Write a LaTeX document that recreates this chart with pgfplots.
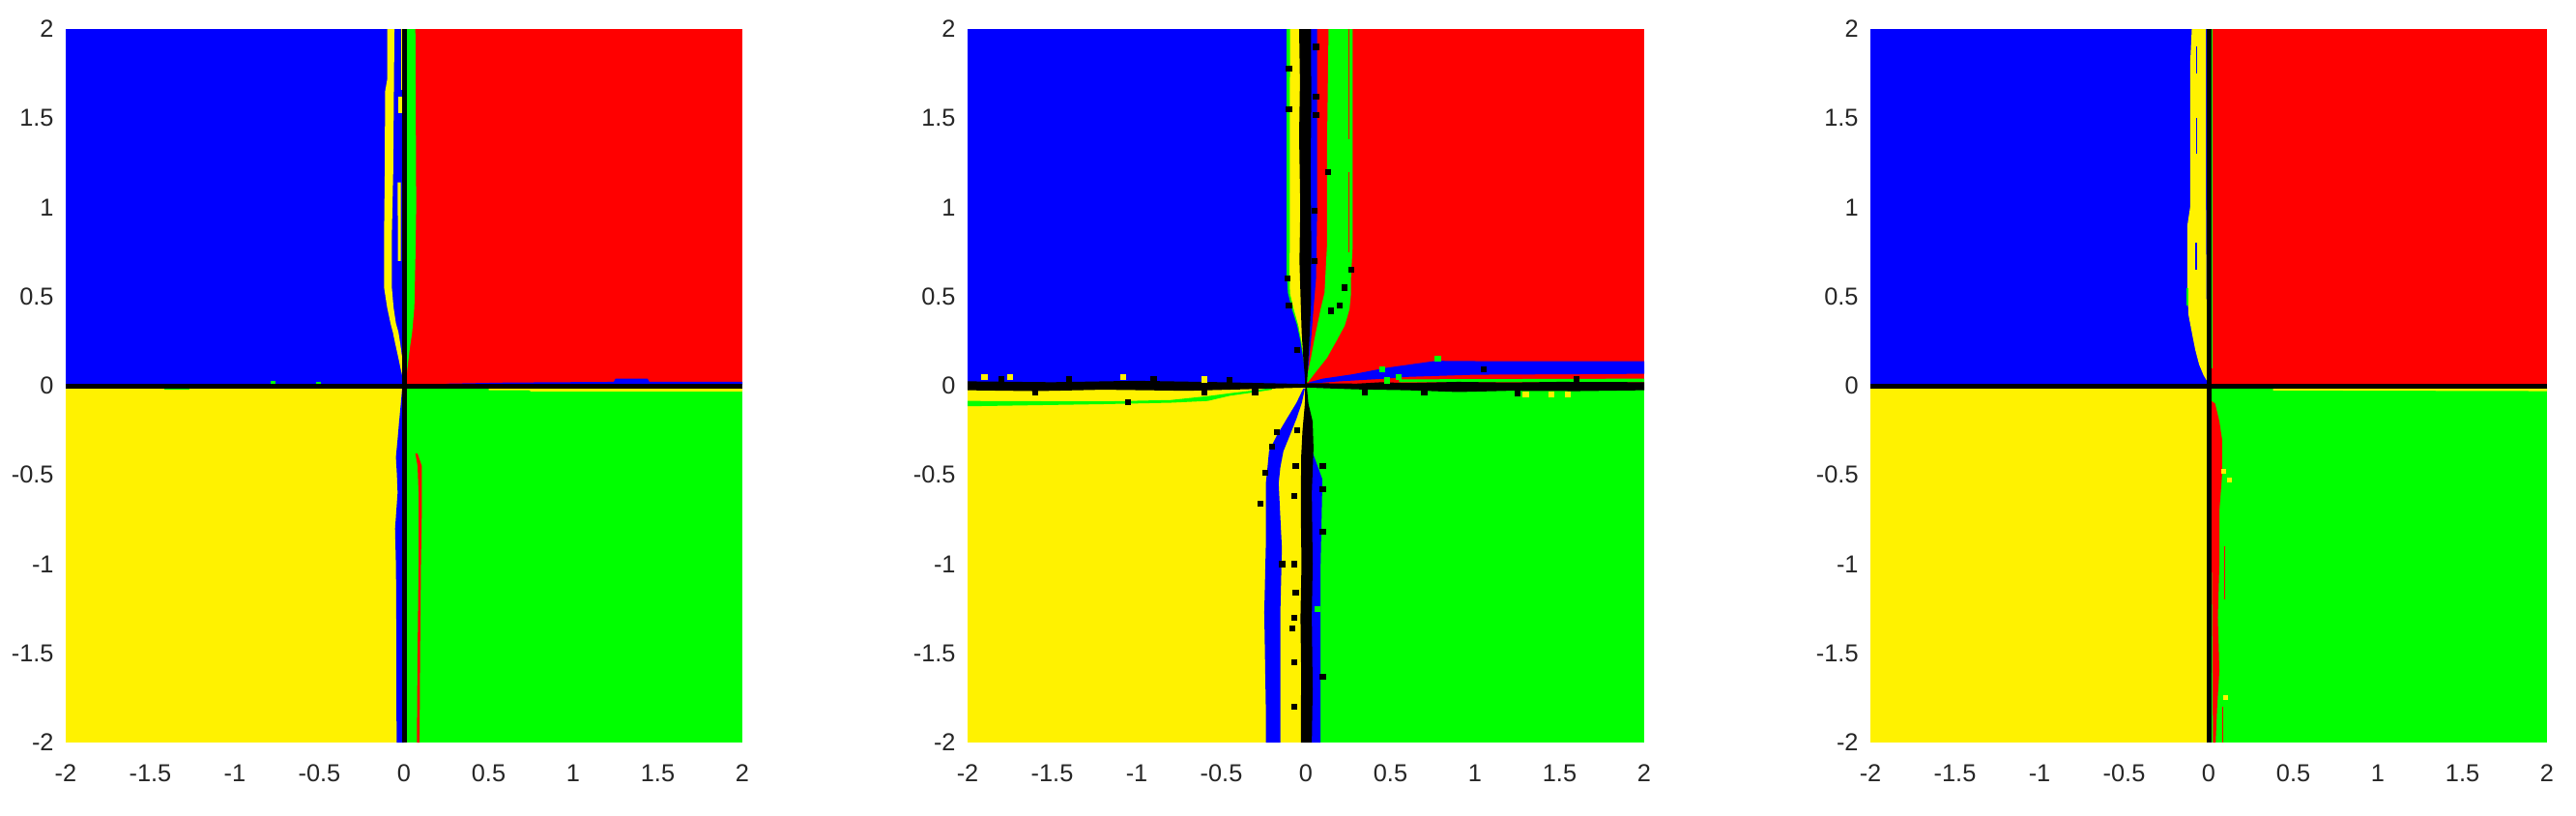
\documentclass[border=0pt]{standalone}
\usepackage{pgfplots}
\pgfplotsset{compat=1.18}
\usepackage{fontspec}
\setmainfont{Liberation Sans}
\definecolor{labelgray}{RGB}{38,38,38}

\pgfplotsset{
  basin/.style={
    scale only axis, width=210pt, height=221.4pt, anchor=south west,
    xmin=-2, xmax=2, ymin=-2, ymax=2,
    xtick={-2,-1.5,-1,-0.5,0,0.5,1,1.5,2},
    ytick={-2,-1.5,-1,-0.5,0,0.5,1,1.5,2},
    xticklabels={-2,-1.5,-1,-0.5,0,0.5,1,1.5,2},
    yticklabels={-2,-1.5,-1,-0.5,0,0.5,1,1.5,2},
    axis line style={draw=none}, major tick length=0pt,
    tick label style={font=\fontsize{7.6}{8}\selectfont, text=labelgray},
    xticklabel style={yshift=-3.4pt},
    yticklabel style={xshift=-0.2pt},
  },
  reg/.style={draw=none, fill=#1, forget plot},
  dots/.style={only marks, mark=square*, mark size=0.72pt, #1, forget plot},
}

\begin{document}
\begin{tikzpicture}
\path[use as bounding box] (0,0) rectangle (799.5pt,252.9pt);

% ---------- panel 1 ----------
\begin{axis}[basin, at={(20.4pt,22.5pt)}]
\addplot[reg=blue] coordinates {(-2,0) (0,0) (0,2) (-2,2)} --cycle;
\addplot[reg=red] coordinates {(0,0) (2,0) (2,2) (0,2)} --cycle;
\addplot[reg=yellow] coordinates {(-2,-2) (0,-2) (0,0) (-2,0)} --cycle;
\addplot[reg=green] coordinates {(0,-2) (2,-2) (2,0) (0,0)} --cycle;
% yellow strip, upper left
\addplot[reg=yellow] coordinates {(-0.099,2) (-0.099,1.72) (-0.112,1.65) (-0.114,1.2) (-0.118,0.85)
  (-0.118,0.55) (-0.1,0.44) (-0.08,0.35) (-0.066,0.3) (-0.053,0.24) (-0.032,0.15) (-0.019,0.09) (-0.006,0.04)
  (-0.004,0.09) (-0.01,0.15) (-0.023,0.24) (-0.033,0.3) (-0.048,0.35) (-0.062,0.44) (-0.072,0.55)
  (-0.072,0.85) (-0.064,1.2) (-0.06,1.65) (-0.057,2)} --cycle;
\addplot[reg=yellow] coordinates {(-0.032,1.62) (-0.012,1.62) (-0.012,1.53) (-0.032,1.53)} --cycle;
\addplot[reg=yellow] coordinates {(-0.038,1.14) (-0.019,1.14) (-0.02,0.7) (-0.036,0.7)} --cycle;
\addplot[reg=yellow] coordinates {(-0.02,2) (-0.01,2) (-0.01,1.66) (-0.02,1.66)} --cycle;
% green strip, upper right
\addplot[reg=green] coordinates {(0.012,2) (0.067,2) (0.072,1.0) (0.068,0.75) (0.061,0.44) (0.048,0.3)
  (0.034,0.21) (0.023,0.12) (0.015,0.06) (0.005,0.03) (0.005,2)} --cycle;
% along the x axis
\addplot[reg=blue] coordinates {(0.25,0.008) (2,0.008) (2,0.022) (1.45,0.022) (1.44,0.04) (1.25,0.04)
  (1.24,0.022) (0.6,0.018) (0.25,0.012)} --cycle;
\addplot[reg=yellow] coordinates {(0.5,-0.008) (0.75,-0.008) (0.75,-0.012) (2,-0.012) (2,-0.032)
  (0.75,-0.032) (0.74,-0.025) (0.5,-0.025)} --cycle;
\addplot[reg=green] coordinates {(-1.42,-0.008) (-1.27,-0.008) (-1.27,-0.022) (-1.42,-0.022)} --cycle;
\addplot[reg=green] coordinates {(-0.79,0.008) (-0.76,0.008) (-0.76,0.025) (-0.79,0.025)} --cycle;
\addplot[reg=green] coordinates {(-0.52,0.008) (-0.49,0.008) (-0.49,0.02) (-0.52,0.02)} --cycle;
% blue strip, lower left
\addplot[reg=blue] coordinates {(0,0) (-0.01,0) (-0.019,-0.1) (-0.029,-0.2) (-0.038,-0.3) (-0.048,-0.4)
  (-0.042,-0.5) (-0.038,-0.6) (-0.053,-0.8) (-0.048,-1.0) (-0.046,-1.2) (-0.044,-2) (0,-2)} --cycle;
% red strip, lower right
\addplot[reg=red] coordinates {(0.067,-0.38) (0.08,-0.45) (0.086,-0.6) (0.086,-1.0) (0.08,-1.5)
  (0.076,-2) (0.091,-2) (0.093,-1.8) (0.095,-1.5) (0.1,-1.0) (0.105,-0.7) (0.105,-0.45) (0.08,-0.38)} --cycle;
\addplot[black, line width=1.5pt, forget plot] coordinates {(-2,0) (2,0)};
\addplot[black, line width=1.5pt, forget plot] coordinates {(0,-2) (0,2)};
\end{axis}

% ---------- panel 2 ----------
\begin{axis}[basin, at={(300.3pt,22.5pt)}]
\addplot[reg=blue] coordinates {(-2,0) (0,0) (0,2) (-2,2)} --cycle;
\addplot[reg=red] coordinates {(0,0) (2,0) (2,2) (0,2)} --cycle;
\addplot[reg=yellow] coordinates {(-2,-2) (0,-2) (0,0) (-2,0)} --cycle;
\addplot[reg=green] coordinates {(0,-2) (2,-2) (2,0) (0,0)} --cycle;
% green rim and yellow strip, upper left
\addplot[reg=green] coordinates {(-0.113,2) (-0.113,0.62) (-0.106,0.52) (-0.082,0.43) (-0.052,0.34)
  (-0.032,0.25) (-0.015,0.15) (0,0.05) (0,2)} --cycle;
\addplot[reg=yellow] coordinates {(-0.094,2) (-0.096,0.62) (-0.094,0.52) (-0.072,0.43) (-0.045,0.34)
  (-0.027,0.25) (-0.012,0.15) (0,0.06) (0,2)} --cycle;
% blue strip right of the centre, upper half
\addplot[reg=blue] coordinates {(0,2) (0.067,2) (0.067,1.0) (0.06,0.6) (0.045,0.43) (0.03,0.25)
  (0.01,0.07) (0,0.03)} --cycle;
% green strip, upper right
\addplot[reg=green] coordinates {(0.134,2) (0.125,1.33) (0.125,0.79) (0.115,0.61) (0.11,0.52) (0.087,0.43)
  (0.067,0.338) (0.048,0.25) (0.03,0.157) (0.01,0.067) (0.005,0.02) (0.012,0.02) (0.05,0.067)
  (0.125,0.157) (0.18,0.25) (0.23,0.338) (0.258,0.43) (0.267,0.52) (0.267,0.61) (0.277,0.79) (0.277,2)} --cycle;
\addplot[reg=red] coordinates {(0.25,2) (0.256,2) (0.256,1.38) (0.25,1.38)} --cycle;
\addplot[reg=red] coordinates {(0.25,1.2) (0.256,1.2) (0.256,0.75) (0.25,0.75)} --cycle;
% blue band above the x axis
\addplot[reg=blue] coordinates {(0.02,0.02) (0.1,0.04) (0.28,0.065) (0.47,0.1) (0.77,0.14) (1.04,0.138)
  (2,0.138) (2,0.067) (1.0,0.062) (0.6,0.05) (0.47,0.04) (0.2,0.025) (0.02,0.012)} --cycle;
\addplot[reg=green] coordinates {(0.55,0.02) (2,0.02) (2,0.04) (0.55,0.036)} --cycle;
% green band below the x axis, left
\addplot[reg=green] coordinates {(-2,-0.085) (-1.2,-0.088) (-0.8,-0.08) (-0.58,-0.058) (-0.45,-0.042)
  (-0.3,-0.025) (-0.2,-0.012) (-0.2,-0.022) (-0.3,-0.036) (-0.45,-0.056) (-0.58,-0.085) (-0.8,-0.095)
  (-1.2,-0.103) (-2,-0.115)} --cycle;
% blue bands, lower half
\addplot[reg=blue] coordinates {(-0.015,-0.015) (-0.056,-0.096) (-0.113,-0.185) (-0.17,-0.276)
  (-0.218,-0.367) (-0.227,-0.457) (-0.237,-0.55) (-0.237,-0.9) (-0.246,-1.27) (-0.237,-1.8) (-0.237,-2)
  (-0.151,-2) (-0.151,-1.27) (-0.142,-0.91) (-0.161,-0.547) (-0.151,-0.457) (-0.133,-0.367)
  (-0.094,-0.276) (-0.056,-0.185) (-0.024,-0.096) (-0.006,-0.015)} --cycle;
\addplot[reg=blue] coordinates {(0.035,-0.36) (0.05,-0.4) (0.096,-0.52) (0.096,-0.6) (0.087,-1.0)
  (0.087,-2) (0.035,-2)} --cycle;
% black bands
\addplot[reg=black] coordinates {(-0.04,2) (-0.035,1.7) (-0.04,1.4) (-0.033,1.0) (-0.038,0.7)
  (-0.03,0.45) (-0.025,0.3) (-0.015,0.15) (-0.006,0.05) (-0.004,0) (-0.006,-0.1) (-0.02,-0.25)
  (-0.028,-0.4) (-0.03,-0.7) (-0.026,-1.0) (-0.032,-1.3) (-0.028,-1.6) (-0.03,-2) (0.035,-2)
  (0.04,-1.7) (0.035,-1.3) (0.04,-1.0) (0.035,-0.6) (0.045,-0.35) (0.04,-0.2) (0.015,-0.1)
  (0.005,0) (0.012,0.1) (0.02,0.25) (0.03,0.45) (0.032,0.8) (0.028,1.2) (0.032,1.6) (0.03,2)} --cycle;
\addplot[reg=black] coordinates {(0,0.015) (0.3,0.012) (0.45,0.02) (0.6,0.015) (0.9,0.022) (1.2,0.018)
  (1.5,0.022) (2,0.02) (2,-0.025) (1.6,-0.03) (1.2,-0.028) (0.9,-0.035) (0.6,-0.025) (0.3,-0.02) (0,-0.01)} --cycle;
\addplot[reg=black] coordinates {(-2,0.025) (-1.5,0.02) (-1,0.028) (-0.5,0.02) (-0.1,0.012) (0,0.01)
  (0,-0.01) (-0.3,-0.018) (-0.7,-0.028) (-1.2,-0.022) (-1.6,-0.03) (-2,-0.025)} --cycle;
\addplot[dots=black] coordinates {
  (-0.1,1.78) (0.06,1.9) (0.06,1.62) (0.06,1.52) (-0.1,1.55) (0.13,1.2) (0.23,0.55) (0.2,0.45) (0.15,0.42)
  (0.27,0.65) (0.05,0.7) (0.05,0.98) (-0.11,0.6) (-0.1,0.45) (-0.05,0.2)
  (-1.05,-0.09) (1.05,0.09) (0.7,-0.04) (1.25,-0.045) (-1.4,0.04) (-1.8,0.035) (-0.6,-0.04) (-0.3,-0.035)
  (-0.9,0.035) (-0.45,0.03) (1.6,0.035) (0.35,-0.04) (-1.6,-0.04)
  (-0.27,-0.66) (-0.24,-0.49) (-0.2,-0.34) (-0.17,-0.26) (0.1,-0.82) (0.1,-1.63) (0.1,-0.58) (0.1,-0.45)
  (-0.07,-1.0) (-0.07,-1.55) (-0.07,-1.8) (-0.07,-0.62) (-0.07,-1.3) (-0.14,-1.0) (-0.05,-0.25)
  (-0.06,-0.45) (-0.06,-1.16) (-0.08,-1.36)};
\addplot[dots=yellow] coordinates {
  (-1.9,0.05) (-1.75,0.05) (-1.08,0.05) (-0.6,0.035) (1.3,-0.05) (1.45,-0.05) (1.55,-0.05)};
\addplot[dots=green] coordinates {(0.45,0.09) (0.48,0.03) (0.78,0.15) (0.07,-1.25) (0.55,0.05)};
\end{axis}

% ---------- panel 3 ----------
\begin{axis}[basin, at={(580.5pt,22.5pt)}]
\addplot[reg=blue] coordinates {(-2,0) (0,0) (0,2) (-2,2)} --cycle;
\addplot[reg=red] coordinates {(0,0) (2,0) (2,2) (0,2)} --cycle;
\addplot[reg=yellow] coordinates {(-2,-2) (0,-2) (0,0) (-2,0)} --cycle;
\addplot[reg=green] coordinates {(0,-2) (2,-2) (2,0) (0,0)} --cycle;
% yellow strip, upper left
\addplot[reg=yellow] coordinates {(-0.1,2) (-0.11,1.8) (-0.11,1.0) (-0.126,0.9) (-0.126,0.55)
  (-0.12,0.4) (-0.1,0.3) (-0.079,0.2) (-0.057,0.12) (-0.031,0.06) (-0.012,0.03) (-0.008,0.06)
  (-0.012,0.3) (-0.016,1.0) (-0.016,2)} --cycle;
\addplot[reg=blue] coordinates {(-0.075,1.9) (-0.066,1.9) (-0.066,1.75) (-0.075,1.75)} --cycle;
\addplot[reg=blue] coordinates {(-0.075,1.5) (-0.066,1.5) (-0.066,1.3) (-0.075,1.3)} --cycle;
\addplot[reg=blue] coordinates {(-0.08,0.8) (-0.07,0.8) (-0.07,0.65) (-0.08,0.65)} --cycle;
\addplot[reg=green] coordinates {(-0.13,0.55) (-0.118,0.55) (-0.118,0.45) (-0.13,0.45)} --cycle;
\addplot[reg=green] coordinates {(0.013,2) (0.02,2) (0.02,0.1) (0.013,0.1)} --cycle;
% red strip, lower right
\addplot[reg=red] coordinates {(0.01,-0.08) (0.038,-0.1) (0.063,-0.2) (0.079,-0.3) (0.079,-0.5)
  (0.063,-0.7) (0.063,-1.0) (0.054,-1.3) (0.063,-1.6) (0.05,-1.8) (0.041,-2) (0.025,-2) (0.022,-1.5)
  (0.018,-1.0) (0.012,-0.5)} --cycle;
\addplot[reg=red] coordinates {(0.092,-0.9) (0.098,-0.9) (0.098,-1.2) (0.092,-1.2)} --cycle;
\addplot[reg=red] coordinates {(0.077,-1.8) (0.083,-1.8) (0.083,-2) (0.077,-2)} --cycle;
\addplot[dots=yellow, mark size=0.55pt] coordinates {(0.09,-0.48) (0.12,-0.53) (0.1,-1.75)};
% along the x axis
\addplot[reg=green] coordinates {(0.19,-0.008) (0.38,-0.008) (0.38,-0.02) (0.19,-0.016)} --cycle;
\addplot[reg=yellow] coordinates {(0.38,-0.01) (2,-0.01) (2,-0.03) (0.38,-0.026)} --cycle;
\addplot[black, line width=1.5pt, forget plot] coordinates {(-2,0) (2,0)};
\addplot[black, line width=1.5pt, forget plot] coordinates {(0,-2) (0,2)};
\end{axis}
\end{tikzpicture}
\end{document}
